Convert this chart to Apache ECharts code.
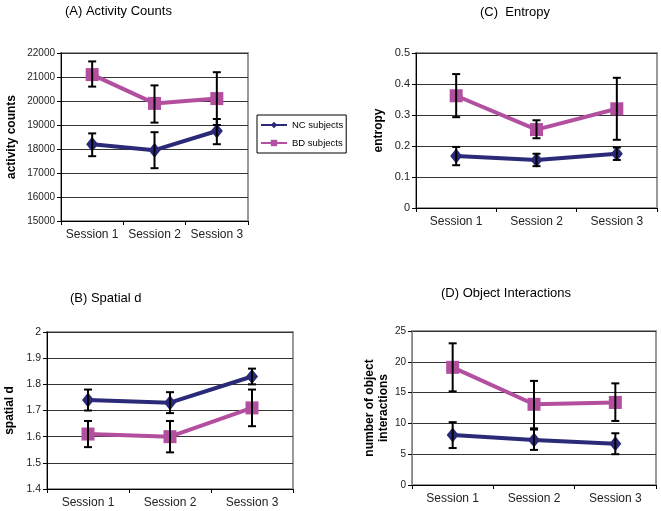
<!DOCTYPE html>
<html>
<head>
<meta charset="utf-8">
<script src="https://cdn.jsdelivr.net/npm/echarts@6/dist/echarts.min.js"></script>
<style>
  html, body { margin: 0; padding: 0; background: #fff; }
  #chart { width: 661px; height: 511px; }
</style>
</head>
<body>
<div id="chart"></div>
<script>
var sessions = ['Session 1', 'Session 2', 'Session 3'];

// (A) activity counts
var activityNC = [18200, 17950, 18750];
var activityNCLow = [17700, 17200, 18200];
var activityNCHigh = [18650, 18700, 19250];
var activityBD = [21100, 19900, 20100];
var activityBDLow = [20600, 19100, 19000];
var activityBDHigh = [21650, 20650, 21200];

// (B) spatial d
var spatialNC = [1.74, 1.73, 1.83];
var spatialNCLow = [1.70, 1.69, 1.80];
var spatialNCHigh = [1.78, 1.77, 1.86];
var spatialBD = [1.61, 1.60, 1.71];
var spatialBDLow = [1.56, 1.54, 1.64];
var spatialBDHigh = [1.66, 1.66, 1.78];

// (C) entropy
var entropyNC = [0.168, 0.155, 0.175];
var entropyNCLow = [0.138, 0.135, 0.155];
var entropyNCHigh = [0.197, 0.175, 0.195];
var entropyBD = [0.362, 0.253, 0.32];
var entropyBDLow = [0.293, 0.225, 0.22];
var entropyBDHigh = [0.432, 0.283, 0.42];

// (D) object interactions
var objectNC = [8.1, 7.3, 6.7];
var objectNCLow = [6.0, 5.7, 5.0];
var objectNCHigh = [10.2, 9.0, 8.4];
var objectBD = [19.1, 13.1, 13.4];
var objectBDLow = [15.2, 9.2, 10.4];
var objectBDHigh = [23.0, 16.9, 16.5];

var NC_COLOR = '#2b2a78';
var BD_COLOR = '#b2509f';

var chart = echarts.init(document.getElementById('chart'));

function errorData(low, high) {
    return low.map(function (l, i) { return [i, l, high[i]]; });
}

function renderError(params, api) {
    var top = api.coord([api.value(0), api.value(2)]);
    var bot = api.coord([api.value(0), api.value(1)]);
    var w = 4;
    var st = { stroke: '#000', lineWidth: 2 };
    return {
        type: 'group',
        children: [
            { type: 'line', shape: { x1: top[0], y1: top[1], x2: bot[0], y2: bot[1] }, style: st },
            { type: 'line', shape: { x1: top[0] - w, y1: top[1], x2: top[0] + w, y2: top[1] }, style: st },
            { type: 'line', shape: { x1: bot[0] - w, y1: bot[1], x2: bot[0] + w, y2: bot[1] }, style: st }
        ]
    };
}

function xAx(i) {
    return {
        type: 'category', gridIndex: i, data: sessions, boundaryGap: true,
        axisLine: { lineStyle: { color: '#000', width: 1 } },
        axisTick: { show: true, length: 4, lineStyle: { color: '#000' } },
        axisLabel: { interval: 0, hideOverlap: false, fontFamily: 'Liberation Sans', fontSize: 12, color: '#222', margin: 8 },
        splitLine: { show: false }
    };
}

function yAx(i, min, max, step, name, gap, fs, axisColor) {
    return {
        type: 'value', gridIndex: i, min: min, max: max, interval: step,
        name: name, nameLocation: 'middle', nameGap: gap, nameRotate: 90,
        nameTextStyle: { fontFamily: 'Liberation Sans', fontSize: 12, fontWeight: 'bold', color: '#000', lineHeight: 14 },
        axisLine: { show: true, lineStyle: { color: axisColor || '#000', width: 1 } },
        axisTick: { show: true, length: 4, lineStyle: { color: '#000' } },
        axisLabel: {
            fontFamily: 'Liberation Sans', fontSize: fs, color: '#222', margin: 6,
            formatter: function (v) { return String(v); }
        },
        splitLine: { show: true, lineStyle: { color: '#333', width: 1 } }
    };
}

function lineSeries(name, i, data, color, symbol, size) {
    return {
        name: name, type: 'line', xAxisIndex: i, yAxisIndex: i, data: data,
        symbol: symbol, symbolSize: size, z: 3,
        lineStyle: { color: color, width: 4 },
        itemStyle: { color: color }
    };
}

function errSeries(name, i, low, high) {
    return {
        name: name, type: 'custom', xAxisIndex: i, yAxisIndex: i,
        data: errorData(low, high), renderItem: renderError, z: 4, silent: true
    };
}

var gridStyle = { show: true, borderColor: '#999', borderWidth: 2, backgroundColor: '#fff' };

var option = {
    animation: false,
    textStyle: { fontFamily: 'Liberation Sans' },
    title: [
        { text: '(A) Activity Counts', left: 60, top: 0, textStyle: { fontSize: 13, fontWeight: 'normal', color: '#000' } },
        { text: '(C)  Entropy', left: 475, top: 1, textStyle: { fontSize: 13, fontWeight: 'normal', color: '#000' } },
        { text: '(B) Spatial d', left: 65, top: 287, textStyle: { fontSize: 13, fontWeight: 'normal', color: '#000' } },
        { text: '(D) Object Interactions', left: 436, top: 282, textStyle: { fontSize: 13, fontWeight: 'normal', color: '#000' } }
    ],
    legend: {
        data: ['NC subjects', 'BD subjects'],
        orient: 'vertical', left: 257, top: 115,
        borderColor: '#000', borderWidth: 1, padding: [5, 3, 5, 3],
        itemWidth: 26, itemHeight: 8, itemGap: 8,
        textStyle: { fontFamily: 'Liberation Sans', fontSize: 9.5, color: '#000' }
    },
    grid: [
        Object.assign({ left: 61, top: 53, width: 187, height: 168 }, gridStyle),
        Object.assign({ left: 416, top: 53, width: 241, height: 155 }, gridStyle),
        Object.assign({ left: 47, top: 332, width: 246, height: 157 }, gridStyle),
        Object.assign({ left: 412, top: 331, width: 244, height: 154 }, gridStyle)
    ],
    xAxis: [xAx(0), xAx(1), xAx(2), xAx(3)],
    yAxis: [
        yAx(0, 15000, 22000, 1000, 'activity counts', 42, 10),
        yAx(1, 0, 0.5, 0.1, 'entropy', 30, 11),
        yAx(2, 1.4, 2, 0.1, 'spatial d', 30, 10.5),
        yAx(3, 0, 25, 5, 'number of object\ninteractions', 20, 10, '#888')
    ],
    series: [
        lineSeries('NC subjects', 0, activityNC, NC_COLOR, 'diamond', [12, 15]),
        lineSeries('BD subjects', 0, activityBD, BD_COLOR, 'rect', 13),
        errSeries('NC subjects', 0, activityNCLow, activityNCHigh),
        errSeries('BD subjects', 0, activityBDLow, activityBDHigh),

        lineSeries('NC subjects', 1, entropyNC, NC_COLOR, 'diamond', [12, 15]),
        lineSeries('BD subjects', 1, entropyBD, BD_COLOR, 'rect', 13),
        errSeries('NC subjects', 1, entropyNCLow, entropyNCHigh),
        errSeries('BD subjects', 1, entropyBDLow, entropyBDHigh),

        lineSeries('NC subjects', 2, spatialNC, NC_COLOR, 'diamond', [12, 15]),
        lineSeries('BD subjects', 2, spatialBD, BD_COLOR, 'rect', 13),
        errSeries('NC subjects', 2, spatialNCLow, spatialNCHigh),
        errSeries('BD subjects', 2, spatialBDLow, spatialBDHigh),

        lineSeries('NC subjects', 3, objectNC, NC_COLOR, 'diamond', [12, 15]),
        lineSeries('BD subjects', 3, objectBD, BD_COLOR, 'rect', 13),
        errSeries('NC subjects', 3, objectNCLow, objectNCHigh),
        errSeries('BD subjects', 3, objectBDLow, objectBDHigh)
    ]
};

chart.setOption(option);

window.onresize = chart.resize;
</script>
</body>
</html>
